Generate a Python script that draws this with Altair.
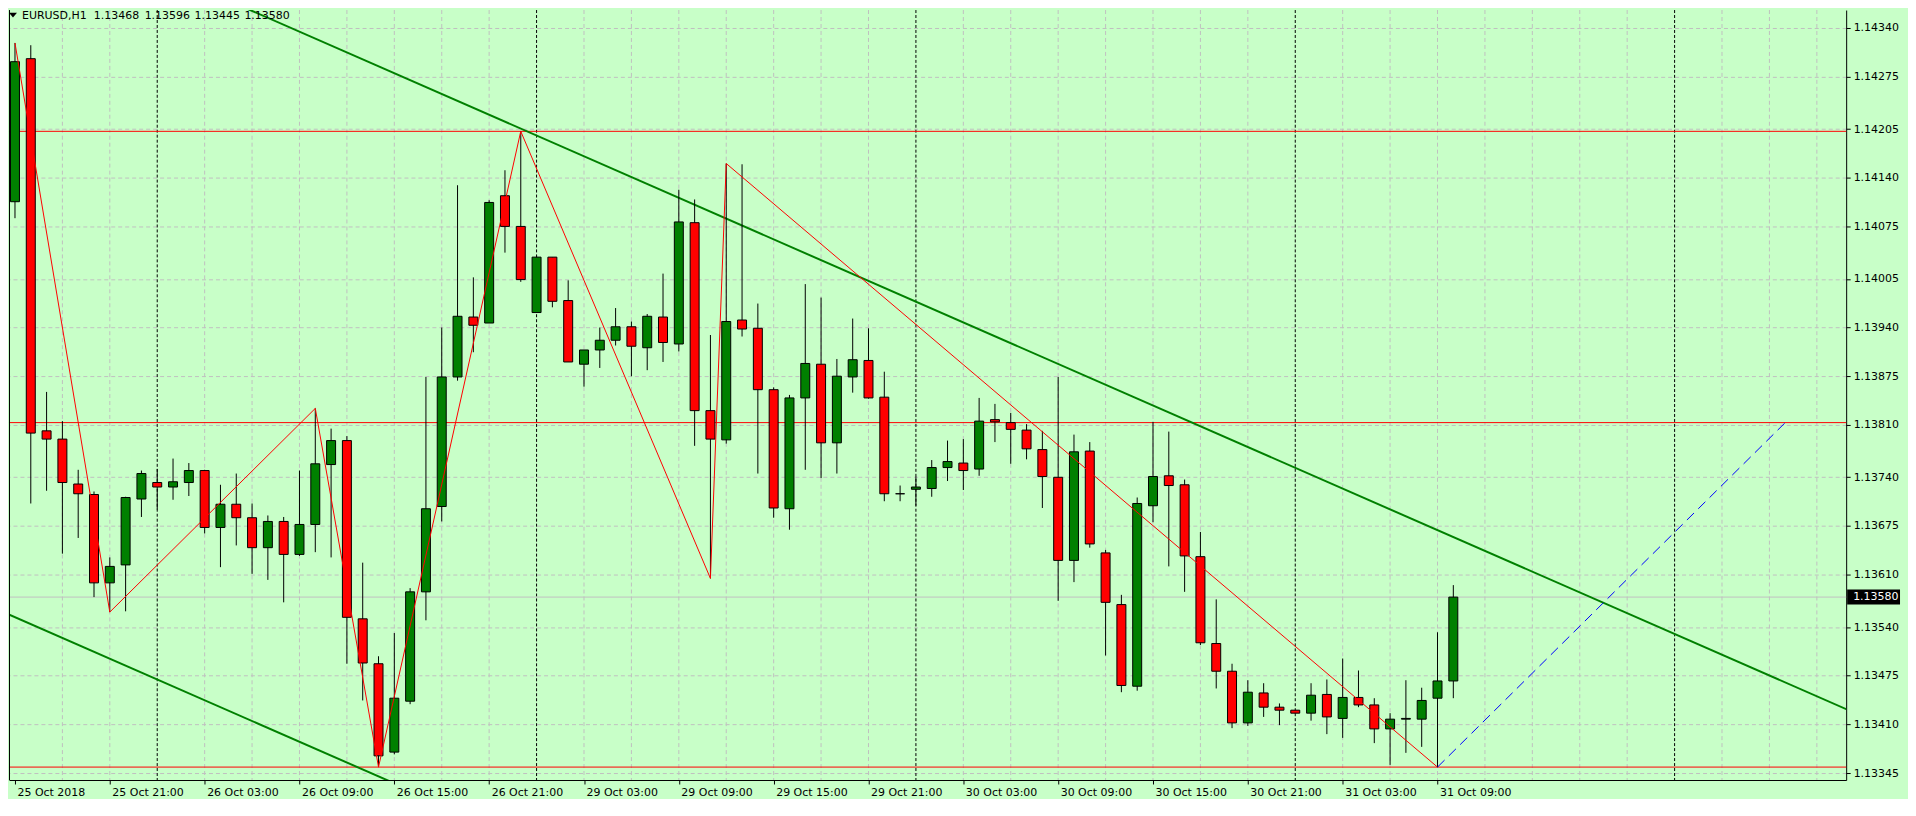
import json
import altair as alt
import pandas as pd

# ---------------- data (EURUSD, H1) ----------------
candle_idx = list(range(92))
opens = [1.14108, 1.14299, 1.13802, 1.13791, 1.13731, 1.13717, 1.13599, 1.13623, 1.13711, 1.13733,
         1.13727, 1.13733, 1.13749, 1.13673, 1.13704, 1.13686, 1.13646, 1.13681, 1.13637, 1.13677,
         1.13757, 1.13789, 1.13551, 1.13491, 1.13373, 1.13441, 1.13587, 1.13701, 1.13874, 1.13954,
         1.13946, 1.14116, 1.14075, 1.13960, 1.14034, 1.13976, 1.13891, 1.13910, 1.13923, 1.13941,
         1.13913, 1.13954, 1.13918, 1.14080, 1.13829, 1.13790, 1.13950, 1.13939, 1.13857, 1.13698,
         1.13846, 1.13891, 1.13786, 1.13874, 1.13896, 1.13847, 1.13718, 1.13724, 1.13725, 1.13753,
         1.13759, 1.13751, 1.13817, 1.13813, 1.13803, 1.13777, 1.13740, 1.13629, 1.13775, 1.13639,
         1.13570, 1.13461, 1.13702, 1.13742, 1.13730, 1.13634, 1.13518, 1.13481, 1.13412, 1.13452,
         1.13433, 1.13429, 1.13425, 1.13450, 1.13418, 1.13446, 1.13436, 1.13404, 1.13417, 1.13417,
         1.13445, 1.13468]
highs = [1.14320, 1.14317, 1.13854, 1.13815, 1.13750, 1.13721, 1.13633, 1.13714, 1.13749, 1.13751,
         1.13765, 1.13759, 1.13750, 1.13730, 1.13745, 1.13705, 1.13689, 1.13687, 1.13749, 1.13832,
         1.13805, 1.13795, 1.13626, 1.13501, 1.13532, 1.13592, 1.13874, 1.13940, 1.14130, 1.14007,
         1.14110, 1.14150, 1.14202, 1.14036, 1.14034, 1.14003, 1.13910, 1.13940, 1.13966, 1.13948,
         1.13958, 1.14012, 1.14124, 1.14111, 1.13930, 1.14159, 1.14158, 1.13972, 1.13860, 1.13850,
         1.13998, 1.13980, 1.13898, 1.13952, 1.13939, 1.13881, 1.13729, 1.13741, 1.13763, 1.13789,
         1.13791, 1.13846, 1.13838, 1.13826, 1.13811, 1.13802, 1.13874, 1.13797, 1.13787, 1.13643,
         1.13583, 1.13713, 1.13814, 1.13801, 1.13737, 1.13667, 1.13577, 1.13491, 1.13469, 1.13465,
         1.13438, 1.13429, 1.13465, 1.13470, 1.13498, 1.13482, 1.13445, 1.13425, 1.13469, 1.13459,
         1.13533, 1.13596]
lows = [1.14086, 1.13705, 1.13722, 1.13638, 1.13659, 1.13580, 1.13560, 1.13561, 1.13687, 1.13697,
        1.13710, 1.13715, 1.13665, 1.13620, 1.13649, 1.13611, 1.13603, 1.13573, 1.13635, 1.13640,
        1.13633, 1.13491, 1.13442, 1.13353, 1.13370, 1.13437, 1.13549, 1.13681, 1.13869, 1.13907,
        1.13946, 1.14040, 1.14001, 1.13960, 1.13967, 1.13894, 1.13861, 1.13886, 1.13916, 1.13875,
        1.13883, 1.13894, 1.13908, 1.13782, 1.13605, 1.13785, 1.13928, 1.13745, 1.13686, 1.13670,
        1.13750, 1.13739, 1.13745, 1.13853, 1.13845, 1.13708, 1.13708, 1.13702, 1.13714, 1.13735,
        1.13723, 1.13742, 1.13787, 1.13758, 1.13764, 1.13699, 1.13575, 1.13600, 1.13646, 1.13502,
        1.13453, 1.13455, 1.13680, 1.13621, 1.13587, 1.13516, 1.13458, 1.13405, 1.13408, 1.13420,
        1.13409, 1.13425, 1.13415, 1.13397, 1.13392, 1.13433, 1.13385, 1.13356, 1.13372, 1.13380,
        1.13353, 1.13445]
closes = [1.14295, 1.13799, 1.13791, 1.13733, 1.13718, 1.13599, 1.13621, 1.13713, 1.13745, 1.13727,
          1.13734, 1.13749, 1.13673, 1.13704, 1.13686, 1.13646, 1.13681, 1.13637, 1.13677, 1.13758,
          1.13789, 1.13553, 1.13492, 1.13368, 1.13445, 1.13587, 1.13698, 1.13874, 1.13955, 1.13943,
          1.14107, 1.14075, 1.14004, 1.14034, 1.13975, 1.13894, 1.13910, 1.13923, 1.13941, 1.13915,
          1.13955, 1.13920, 1.14081, 1.13829, 1.13791, 1.13948, 1.13938, 1.13857, 1.13699, 1.13846,
          1.13892, 1.13786, 1.13875, 1.13897, 1.13846, 1.13718, 1.13718, 1.13727, 1.13753, 1.13761,
          1.13749, 1.13815, 1.13814, 1.13804, 1.13778, 1.13741, 1.13629, 1.13774, 1.13651, 1.13573,
          1.13462, 1.13705, 1.13741, 1.13729, 1.13635, 1.13519, 1.13481, 1.13412, 1.13453, 1.13433,
          1.13429, 1.13425, 1.13449, 1.13420, 1.13446, 1.13436, 1.13404, 1.13417, 1.13418, 1.13442,
          1.13468, 1.13580]

tick_idx = [0, 6, 12, 18, 24, 30, 36, 42, 48, 54, 60, 66, 72, 78, 84, 90]
tick_labels = ["25 Oct 2018", "25 Oct 21:00", "26 Oct 03:00", "26 Oct 09:00", "26 Oct 15:00",
               "26 Oct 21:00", "29 Oct 03:00", "29 Oct 09:00", "29 Oct 15:00", "29 Oct 21:00",
               "30 Oct 03:00", "30 Oct 09:00", "30 Oct 15:00", "30 Oct 21:00", "31 Oct 03:00",
               "31 Oct 09:00"]
price_ticks = [1.14340, 1.14275, 1.14205, 1.14140, 1.14075, 1.14005, 1.13940, 1.13875,
               1.13810, 1.13740, 1.13675, 1.13610, 1.13540, 1.13475, 1.13410, 1.13345]

day_sep_idx = [9, 33, 57, 81, 105]
level_prices = [1.14202, 1.13813, 1.13353]
zig_idx = [0, 6, 19, 23, 32, 44, 45, 90]
zig_prices = [1.14320, 1.13560, 1.13832, 1.13353, 1.14202, 1.13605, 1.14159, 1.13353]
proj_idx = [90, 112]
proj_prices = [1.13353, 1.13813]
upper_idx = [-1, 117]
upper_prices = [1.145107, 1.134198]
lower_idx = [-1, 30]
lower_prices = [1.135624, 1.132759]
last_price = 1.13580
title_parts = ["EURUSD,H1", "1.13468", "1.13596", "1.13445", "1.13580"]

# ---------------- layout / style ----------------
W, H = 1842, 772
PX_PER_CANDLE = 15.934
X0 = -0.0628
X1 = X0 + W / PX_PER_CANDLE
Y1 = 1.1436397
Y0 = 1.1333574
BG = "#C8FFC8"
GRID = "#c0c0c0"
FONT = "DejaVu Sans"
FS = 11
title_part_x = [13, 85, 136, 186, 236]   # pixel offsets of the header pieces

grid_idx = [i for i in range(3, 116, 3) if i not in day_sep_idx]

xscale = alt.Scale(domain=[X0, X1], nice=False, zero=False)
yscale = alt.Scale(domain=[Y0, Y1], nice=False, zero=False)

label_expr = json.dumps(tick_labels) + "[round(datum.value / 6)]"

xaxis = alt.Axis(orient="bottom", values=tick_idx, labelExpr=label_expr, labelAlign="left",
                 labelBaseline="top", labelOffset=2, labelPadding=3, tickSize=4,
                 tickColor="black", domainColor="black", labelColor="black",
                 labelFont=FONT, labelFontSize=FS, grid=False, labelOverlap=False,
                 labelFlush=False, labelBound=False, title=None)
yaxis = alt.Axis(orient="right", values=price_ticks, format=".5f", labelAlign="left",
                 labelBaseline="middle", tickSize=4, labelPadding=3, grid=True,
                 gridColor=GRID, gridDash=[4, 3], gridWidth=1, tickColor="black",
                 domainColor="black", labelColor="black", labelFont=FONT, labelFontSize=FS,
                 labelOverlap=False, labelFlush=False, title=None)


def X(field):
    return alt.X(f"{field}:Q", scale=xscale, axis=xaxis)


def Y(field):
    return alt.Y(f"{field}:Q", scale=yscale, axis=yaxis)


df = pd.DataFrame({"k": candle_idx, "open": opens, "high": highs, "low": lows, "close": closes})

vgrid = alt.Chart(pd.DataFrame({"k": grid_idx})).mark_rule(
    color=GRID, strokeDash=[4, 3], strokeWidth=1, clip=True).encode(x=X("k"))
days = alt.Chart(pd.DataFrame({"k": day_sep_idx})).mark_rule(
    color="black", strokeDash=[3, 2], strokeWidth=1, clip=True).encode(x=X("k"))
levels = alt.Chart(pd.DataFrame({"p": level_prices})).mark_rule(
    color="#ff0000", strokeWidth=1).encode(y=Y("p"))
curr = alt.Chart(pd.DataFrame({"p": [last_price]})).mark_rule(
    color=GRID, strokeWidth=1).encode(y=Y("p"))

trend_df = pd.DataFrame({
    "k": upper_idx + lower_idx,
    "p": upper_prices + lower_prices,
    "line": ["upper", "upper", "lower", "lower"],
})
trend = alt.Chart(trend_df).mark_line(color="#008000", strokeWidth=2, clip=True).encode(
    x=X("k"), y=Y("p"), detail="line:N")

wicks = alt.Chart(df).mark_rule(color="black", strokeWidth=1, clip=True).encode(
    x=X("k"), y=Y("low"), y2="high:Q")
bodies = alt.Chart(df).mark_bar(size=9, stroke="black", strokeWidth=1, clip=True).encode(
    x=X("k"), y=Y("open"), y2="close:Q",
    fill=alt.condition("datum.close >= datum.open", alt.value("#008000"), alt.value("#ff0000")))

zig = alt.Chart(pd.DataFrame({"k": zig_idx, "p": zig_prices})).mark_line(
    color="#ff0000", strokeWidth=1, clip=True).encode(x=X("k"), y=Y("p"))
proj = alt.Chart(pd.DataFrame({"k": proj_idx, "p": proj_prices})).mark_line(
    color="#0000ff", strokeWidth=1, strokeDash=[10, 6], clip=True).encode(x=X("k"), y=Y("p"))

one = pd.DataFrame({"a": [0]})
left_border = alt.Chart(one).mark_rule(color="black", strokeWidth=1).encode(
    x=alt.value(0.5), y=alt.value(0), y2=alt.value(H))
tri = alt.Chart(one).mark_point(
    shape="M-1,-0.6L1,-0.6L0,0.6Z", filled=True, color="black", size=64, opacity=1).encode(
    x=alt.value(4), y=alt.value(5))
title = alt.Chart(pd.DataFrame({"t": title_parts, "px": title_part_x})).mark_text(
    align="left", baseline="middle", font=FONT, fontSize=FS, color="black").encode(
    text="t:N", x=alt.X("px:Q", scale=None), y=alt.value(6))

box = alt.Chart(pd.DataFrame({"p": [last_price]})).mark_rule(
    color="black", strokeWidth=15, strokeCap="butt").encode(
    y=Y("p"), x=alt.value(W + 1), x2=alt.value(W + 54))
box_text = alt.Chart(pd.DataFrame({"p": [last_price]})).mark_text(
    align="left", baseline="middle", font=FONT, fontSize=FS, color="white").encode(
    y=Y("p"), x=alt.value(W + 7), text=alt.Text("p:Q", format=".5f"))

chart = alt.layer(
    vgrid, days, levels, curr, trend, wicks, bodies, zig, proj,
    left_border, tri, title, box, box_text
).properties(
    width=W, height=H, padding=0, background=BG
).configure_view(stroke=None, fill=BG)

chart.save("out.html", embed_options={"renderer": "svg", "actions": False})
